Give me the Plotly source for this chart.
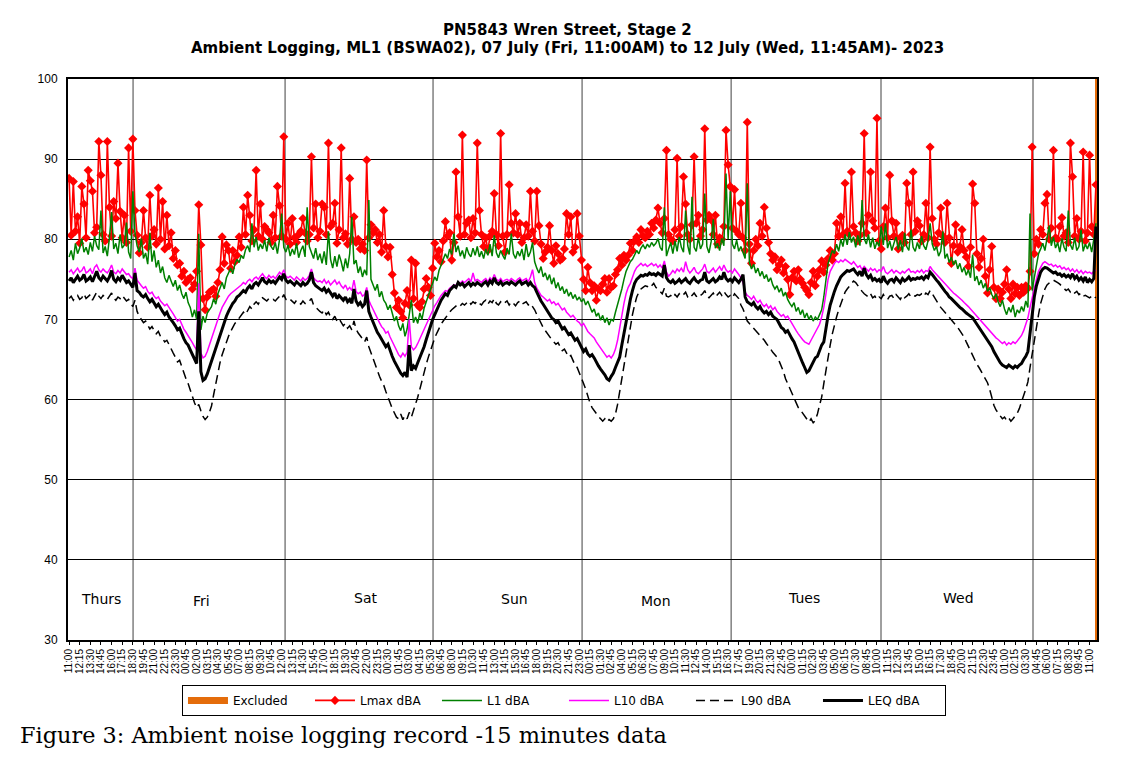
import pandas as pd
import plotly.graph_objects as go

# ---------------- data (15-minute logging, Fri 07 Jul 11:00 -> Wed 12 Jul 11:45) ----------------
lmax = [
    87.6, 80.5, 87.2, 81.0, 82.8, 79.5, 86.6, 84.4, 80.2, 88.6, 87.3, 86.0, 80.8, 81.5, 92.2, 88.0,
    80.6, 79.8, 92.2, 84.0, 80.4, 84.7, 82.6, 89.5, 83.5, 80.2, 83.0, 79.6, 91.4, 81.0, 92.5, 83.6,
    80.5, 78.3, 79.6, 83.6, 80.2, 79.0, 85.5, 80.4, 81.2, 79.4, 86.4, 80.0, 84.7, 78.8, 83.0, 79.2,
    80.8, 77.6, 78.6, 76.8, 77.0, 75.4, 76.0, 74.6, 75.0, 75.2, 73.8, 74.4, 76.0, 84.3, 79.3, 72.6,
    71.2, 72.8, 73.4, 73.6, 73.8, 72.9, 74.6, 76.2, 80.3, 77.0, 79.3, 78.6, 76.4, 78.6, 77.2, 78.0,
    80.3, 79.0, 84.0, 80.6, 85.5, 83.0, 79.8, 81.2, 88.6, 80.4, 84.4, 80.0, 81.6, 81.2, 80.8, 79.6,
    83.0, 80.2, 86.6, 84.2, 80.4, 92.8, 80.0, 82.0, 79.4, 82.6, 80.2, 79.6, 80.6, 81.0, 82.6, 80.8,
    79.8, 80.6, 90.3, 81.4, 84.4, 80.2, 81.0, 84.4, 84.0, 80.6, 92.0, 81.6, 82.0, 84.5, 79.5, 81.2,
    91.4, 80.2, 80.7, 79.4, 87.6, 80.0, 82.8, 79.6, 80.0, 78.8, 79.4, 78.6, 89.9, 80.2, 81.8, 80.8,
    81.2, 79.6, 80.6, 78.4, 83.6, 79.1, 77.8, 79.0, 75.6, 73.3, 71.5, 72.4, 71.0, 70.2, 72.0, 73.6,
    71.8, 77.4, 72.6, 77.0, 71.8, 71.5, 72.2, 73.8, 75.1, 74.0, 73.0, 76.4, 79.5, 77.8, 78.6, 77.2,
    79.8, 82.2, 80.4, 80.8, 77.4, 79.6, 88.4, 82.8, 80.4, 93.0, 80.6, 82.0, 82.4, 80.2, 82.6, 80.8,
    92.0, 83.6, 80.6, 79.1, 80.2, 78.6, 80.4, 81.0, 85.7, 80.6, 79.2, 93.2, 80.4, 78.4, 80.6, 86.8,
    82.0, 80.8, 83.2, 80.6, 82.0, 79.6, 80.2, 81.8, 80.4, 86.0, 81.0, 79.8, 86.0, 81.7, 79.4, 77.6,
    78.4, 79.0, 81.7, 78.6, 77.0, 79.2, 78.2, 77.4, 77.6, 78.8, 83.2, 80.6, 82.8, 78.4, 79.0, 83.2,
    80.4, 77.4, 75.0, 73.6, 76.5, 74.6, 73.6, 74.2, 72.4, 73.8, 73.6, 74.4, 75.1, 73.4, 75.1, 74.0,
    74.2, 75.6, 76.2, 77.6, 76.8, 78.0, 77.4, 78.0, 79.5, 78.6, 79.8, 80.3, 79.6, 81.2, 80.4, 80.2,
    81.0, 80.6, 82.0, 81.4, 82.4, 83.9, 82.0, 80.8, 82.6, 91.1, 80.6, 80.0, 79.8, 81.2, 90.1, 80.4,
    81.6, 87.8, 84.4, 80.6, 80.0, 81.8, 90.3, 82.0, 83.0, 80.4, 81.2, 93.8, 82.4, 83.0, 82.4, 80.6,
    83.0, 79.4, 80.2, 80.0, 81.6, 93.6, 89.3, 86.6, 81.4, 86.2, 81.0, 80.6, 84.5, 80.2, 78.6, 94.6,
    79.4, 77.0, 78.6, 80.0, 79.2, 82.0, 80.4, 84.0, 81.4, 79.6, 78.2, 77.4, 77.8, 76.2, 76.8, 77.4,
    75.8, 76.6, 75.0, 73.1, 75.2, 76.0, 74.8, 76.2, 75.0, 74.5, 74.0, 73.6, 73.1, 74.6, 76.0, 74.2,
    75.4, 76.2, 77.3, 75.9, 76.8, 77.6, 78.6, 77.4, 78.2, 82.0, 80.4, 82.8, 80.6, 87.0, 81.0, 80.6,
    88.4, 81.6, 80.8, 79.8, 80.5, 82.0, 93.2, 80.8, 83.0, 88.4, 82.3, 81.4, 95.1, 79.8, 78.8, 81.6,
    83.9, 80.2, 88.0, 82.3, 80.4, 82.0, 78.8, 80.2, 80.5, 79.6, 87.0, 84.5, 80.6, 88.4, 81.0, 82.3,
    81.7, 79.8, 80.6, 84.5, 80.2, 91.5, 82.6, 80.0, 79.4, 80.8, 83.9, 80.4, 79.6, 84.5, 80.2, 77.0,
    79.2, 81.8, 78.4, 79.1, 81.2, 78.6, 77.8, 76.6, 79.0, 86.9, 84.5, 78.2, 76.5, 77.6, 80.0, 75.4,
    73.3, 76.2, 79.1, 74.0, 72.6, 73.8, 72.6, 73.4, 74.4, 76.2, 73.8, 72.6, 74.4, 73.2, 74.0, 73.0,
    74.0, 73.4, 74.2, 73.9, 76.0, 91.5, 78.2, 80.0, 79.4, 81.2, 80.6, 84.5, 85.6, 80.0, 81.4, 91.1,
    80.2, 80.0, 81.6, 82.7, 80.4, 80.8, 79.6, 92.0, 87.8, 80.4, 82.6, 80.0, 81.0, 90.9, 79.8, 80.8,
    90.5, 81.6, 80.6, 86.8,
]

l1 = [
    77.8, 78.6, 77.4, 79.5, 78.2, 78.9, 80.1, 78.4, 79.0, 78.1, 79.6, 78.5, 80.4, 79.2, 78.7, 83.6,
    78.3, 79.1, 77.9, 80.2, 83.4, 78.8, 79.5, 78.2, 80.6, 78.9, 79.3, 82.1, 78.4, 77.6, 86.0, 80.8,
    79.2, 78.4, 80.1, 77.6, 78.3, 76.9, 80.8, 77.2, 78.6, 76.5, 77.4, 75.8, 76.6, 75.2, 74.6, 75.5,
    74.8, 74.1, 74.9, 73.6, 74.3, 73.2, 72.6, 73.4, 72.1, 71.5, 70.3, 71.2, 70.0, 80.7, 68.7, 70.4,
    69.6, 70.8, 71.2, 71.6, 72.6, 71.9, 73.2, 74.0, 74.6, 73.8, 75.2, 75.8, 76.4, 75.7, 76.9, 77.5,
    77.1, 78.0, 77.6, 78.7, 79.2, 78.4, 82.0, 79.0, 80.3, 78.6, 79.4, 78.8, 79.9, 78.5, 80.2, 79.1,
    78.7, 79.6, 78.2, 80.0, 83.2, 79.0, 78.4, 79.3, 77.9, 78.8, 78.1, 79.5, 77.7, 78.6, 79.2, 77.8,
    84.0, 79.1, 78.3, 77.6, 78.9, 77.4, 78.2, 77.0, 78.5, 76.8, 81.0, 77.5, 76.4, 77.9, 76.6, 78.1,
    77.2, 76.0, 77.6, 76.4, 78.2, 82.8, 76.9, 77.4, 75.8, 76.6, 75.3, 76.2, 75.5, 84.9, 75.0, 74.2,
    73.6, 74.4, 72.8, 73.5, 72.4, 72.0, 71.2, 71.8, 70.6, 69.8, 70.4, 69.2, 68.6, 69.5, 67.9, 68.8,
    70.6, 72.4, 69.6, 70.3, 69.5, 70.8, 70.0, 71.4, 72.2, 73.0, 73.8, 74.6, 75.3, 74.8, 76.1, 76.8,
    77.4, 78.2, 77.6, 78.8, 78.1, 80.7, 78.4, 79.2, 77.9, 78.6, 77.6, 79.0, 78.2, 77.8, 78.9, 78.0,
    79.1, 77.8, 78.5, 77.6, 78.8, 78.0, 79.4, 77.9, 80.5, 78.3, 77.7, 78.6, 78.0, 77.5, 78.9, 78.1,
    80.7, 78.2, 77.6, 78.5, 77.9, 78.8, 77.4, 79.4, 77.8, 78.4, 79.6, 77.2, 76.4, 75.8, 76.6, 75.3,
    75.8, 74.9, 75.6, 74.4, 75.2, 73.9, 74.6, 73.6, 74.1, 73.2, 73.8, 72.9, 73.4, 72.6, 73.1, 72.4,
    72.8, 72.2, 72.6, 71.8, 72.3, 71.5, 70.9, 71.3, 70.4, 70.8, 69.9, 70.5, 69.6, 70.2, 69.3, 70.0,
    69.8, 70.9, 71.8, 72.6, 73.8, 75.0, 76.0, 76.6, 77.2, 77.5, 78.0, 78.6, 78.2, 78.9, 79.3, 78.8,
    79.4, 79.0, 79.6, 79.2, 79.5, 80.1, 79.0, 78.6, 84.0, 77.9, 78.8, 79.6, 78.2, 79.8, 78.5, 80.3,
    79.0, 78.4, 83.6, 79.2, 78.1, 85.3, 79.0, 78.5, 80.2, 78.8, 79.4, 85.7, 79.1, 78.3, 79.7, 82.5,
    78.9, 79.5, 78.6, 80.1, 79.2, 88.2, 80.0, 86.0, 79.4, 78.8, 79.9, 78.5, 79.1, 78.2, 77.6, 87.0,
    77.1, 76.3, 76.9, 75.8, 76.4, 75.4, 76.0, 75.1, 75.6, 74.7, 75.2, 74.3, 73.8, 74.2, 73.4, 73.9,
    72.9, 73.4, 72.5, 72.0, 71.6, 72.1, 71.0, 71.5, 70.6, 71.2, 70.2, 70.8, 70.0, 70.5, 69.8, 70.3,
    70.0, 70.6, 71.2, 72.8, 75.0, 77.0, 77.8, 78.6, 78.2, 79.4, 78.5, 80.0, 79.1, 80.6, 79.3, 80.9,
    79.6, 80.3, 79.0, 80.5, 79.2, 84.9, 80.1, 79.4, 80.6, 79.0, 80.2, 78.8, 79.7, 79.1, 81.6, 79.3,
    82.0, 78.9, 79.8, 78.6, 79.5, 80.3, 78.7, 79.9, 78.4, 80.8, 79.1, 78.6, 81.2, 79.0, 78.5, 79.6,
    78.8, 80.4, 79.2, 78.7, 79.8, 82.0, 79.4, 78.6, 79.1, 77.9, 78.5, 81.0, 77.6, 78.2, 77.1, 77.8,
    76.8, 77.4, 76.3, 77.0, 75.9, 76.5, 75.5, 76.2, 75.2, 78.1, 74.8, 75.4, 74.3, 74.9, 73.9, 74.5,
    73.5, 74.0, 73.1, 72.6, 73.2, 72.2, 71.6, 72.4, 71.3, 70.6, 71.5, 70.9, 71.8, 70.3, 71.2, 70.8,
    71.6, 71.0, 72.3, 71.5, 83.2, 73.6, 75.2, 77.0, 78.2, 78.8, 79.5, 78.6, 80.0, 81.7, 79.2, 80.3,
    78.9, 79.6, 78.4, 80.1, 79.0, 78.5, 83.6, 79.3, 78.7, 80.2, 78.6, 79.1, 81.2, 78.5, 79.4, 78.8,
    79.6, 78.4, 80.0, 82.0,
]

l10 = [
    75.9, 76.2, 75.7, 76.0, 76.4, 75.9, 76.1, 76.6, 75.8, 76.0, 76.3, 75.7, 76.5, 76.8, 76.2, 75.9,
    76.3, 76.0, 75.8, 76.2, 76.8, 75.9, 75.7, 76.1, 75.8, 76.3, 75.9, 75.6, 75.7, 75.3, 75.1, 76.4,
    74.9, 74.5, 74.2, 73.9, 74.1, 73.5, 73.2, 73.4, 72.9, 72.6, 72.8, 72.3, 72.0, 71.7, 71.9, 71.4,
    71.1, 70.7, 70.3, 69.8, 70.0, 69.3, 68.8, 68.4, 68.0, 67.5, 67.1, 66.6, 66.2, 74.5, 65.8, 65.2,
    65.4, 66.0, 66.8, 67.6, 68.4, 69.3, 70.2, 70.8, 71.5, 72.0, 72.5, 72.9, 73.2, 73.4, 73.7, 73.9,
    74.1, 74.3, 74.6, 74.4, 74.8, 75.0, 74.7, 75.1, 75.3, 75.0, 75.4, 75.7, 75.3, 75.1, 75.5, 75.2,
    75.4, 75.1, 75.5, 75.9, 75.6, 76.2, 75.4, 75.2, 75.4, 75.1, 74.9, 75.3, 75.0, 74.8, 75.2, 74.9,
    75.1, 75.5, 76.3, 75.2, 74.9, 74.7, 74.8, 74.6, 75.0, 74.5, 74.8, 74.3, 74.6, 74.9, 74.4, 74.7,
    74.2, 73.9, 74.3, 73.7, 74.0, 73.6, 74.9, 73.5, 73.2, 73.4, 72.9, 73.1, 74.0, 72.4, 71.8, 71.2,
    70.6, 70.0, 69.6, 69.1, 68.8, 68.3, 68.5, 67.8, 67.2, 66.6, 66.0, 65.6, 65.3, 65.8, 65.4, 65.9,
    70.0, 66.6, 66.2, 66.5, 67.0, 67.6, 68.2, 68.9, 69.5, 70.1, 70.7, 71.2, 71.7, 72.1, 72.6, 73.0,
    73.3, 73.6, 73.5, 73.9, 74.1, 74.3, 74.2, 74.7, 74.5, 74.8, 74.6, 74.9, 75.1, 74.7, 75.8, 74.8,
    75.0, 74.8, 74.6, 74.9, 75.1, 74.7, 75.2, 74.9, 75.6, 75.0, 74.8, 75.1, 74.7, 74.9, 75.0, 74.8,
    75.1, 74.9, 74.7, 75.0, 75.2, 74.8, 74.9, 75.1, 74.7, 75.3, 76.2, 74.6, 73.9, 73.4, 73.0, 72.8,
    72.6, 72.3, 72.5, 72.0, 72.2, 71.8, 72.0, 71.5, 71.2, 71.4, 70.9, 70.6, 70.3, 70.5, 70.1, 69.8,
    69.6, 69.2, 69.5, 68.9, 68.5, 68.2, 68.0, 67.7, 67.2, 66.8, 66.4, 66.0, 65.6, 65.3, 65.5, 65.2,
    65.6, 66.3, 67.4, 69.0, 70.6, 72.0, 73.2, 74.0, 74.5, 75.4, 76.0, 76.5, 76.8, 77.0, 76.7, 76.9,
    76.6, 76.8, 77.0, 76.7, 76.9, 76.5, 76.8, 76.4, 77.3, 75.9, 75.4, 75.7, 76.1, 75.8, 76.3, 76.0,
    76.4, 75.9, 77.2, 76.2, 75.8, 76.1, 76.5, 75.9, 75.7, 76.0, 76.3, 76.9, 76.0, 75.8, 76.1, 76.4,
    75.9, 76.2, 76.6, 76.1, 76.8, 76.2, 75.9, 76.1, 75.8, 76.3, 76.0, 75.6, 75.2, 74.6, 73.4, 73.0,
    72.8, 72.5, 72.9, 72.4, 72.1, 72.4, 71.9, 71.6, 71.9, 71.4, 71.7, 71.2, 71.5, 71.0, 70.7, 70.4,
    70.6, 70.2, 70.4, 69.9, 69.5, 69.0, 68.6, 68.2, 67.8, 67.5, 67.2, 67.0, 66.9, 67.4, 67.9, 68.5,
    69.0, 69.4, 70.3, 71.5, 73.2, 75.0, 76.0, 76.6, 77.0, 77.3, 77.1, 77.4, 77.2, 77.5, 77.3, 77.1,
    76.9, 77.2, 76.8, 76.5, 76.7, 76.2, 76.6, 76.3, 76.0, 76.4, 76.1, 76.3, 75.9, 76.2, 76.0, 76.6,
    75.9, 75.7, 76.0, 76.2, 75.8, 76.1, 75.9, 75.7, 76.0, 75.8, 76.1, 76.3, 75.9, 76.0, 75.8, 76.1,
    75.9, 76.2, 75.8, 76.1, 76.0, 76.6, 76.2, 75.9, 75.6, 75.3, 75.0, 74.7, 74.4, 74.1, 73.8, 73.6,
    73.3, 73.1, 72.9, 72.6, 72.4, 72.1, 71.9, 71.6, 71.3, 71.0, 70.7, 70.3, 70.0, 69.7, 69.4, 69.1,
    68.8, 68.5, 68.2, 67.9, 67.7, 67.5, 67.3, 67.0, 67.2, 66.8, 67.1, 66.9, 67.2, 67.0, 67.3, 67.6,
    68.0, 68.6, 69.3, 70.2, 71.5, 72.8, 73.8, 75.0, 76.0, 76.6, 77.0, 77.2, 77.0, 76.8, 76.9, 76.6,
    76.8, 76.5, 76.7, 76.3, 76.5, 76.2, 76.4, 76.0, 76.3, 75.9, 76.2, 75.8, 76.1, 75.7, 76.0, 75.8,
    75.9, 75.7, 76.0, 76.2,
]

l90 = [
    72.6, 72.9, 72.4, 72.8, 73.0, 72.5, 72.7, 73.2, 72.6, 72.8, 73.1, 72.4, 73.0, 73.4, 72.9, 72.6,
    73.0, 72.8, 72.5, 72.9, 73.3, 72.7, 72.4, 72.8, 72.6, 73.0, 72.7, 72.3, 72.5, 72.0, 71.6, 72.4,
    71.0, 70.4, 70.0, 69.6, 69.8, 69.2, 68.8, 69.1, 68.6, 68.2, 68.5, 67.9, 67.6, 67.2, 67.4, 66.8,
    66.3, 65.8, 65.3, 64.7, 64.9, 64.1, 63.3, 62.6, 62.0, 61.2, 60.3, 59.6, 59.0, 59.4, 58.6, 57.9,
    57.5, 57.8, 58.4, 59.2, 60.6, 62.0, 63.4, 64.6, 65.6, 66.4, 67.2, 67.9, 68.5, 69.0, 69.5, 69.8,
    70.2, 70.5, 70.9, 70.6, 71.2, 71.6, 71.3, 71.9, 72.2, 71.9, 72.4, 72.7, 72.5, 72.3, 72.6, 72.4,
    72.5, 72.3, 72.6, 72.9, 72.6, 73.1, 72.5, 72.3, 72.5, 72.2, 72.0, 72.4, 72.1, 71.9, 72.3, 72.0,
    72.0, 72.3, 72.6, 71.8, 71.5, 71.2, 71.0, 70.8, 71.2, 70.6, 70.9, 70.3, 70.0, 70.4, 69.8, 70.1,
    69.6, 69.2, 69.5, 68.9, 69.2, 68.7, 69.8, 68.8, 68.3, 68.0, 67.6, 67.2, 67.8, 66.6, 65.8, 65.0,
    64.2, 63.5, 62.9, 62.3, 61.8, 61.0, 60.4, 59.6, 58.9, 58.3, 57.8, 57.6, 58.2, 57.5, 58.0, 57.6,
    58.4, 57.8, 58.6, 59.4, 60.3, 61.3, 62.4, 63.4, 64.4, 65.3, 66.2, 67.0, 67.7, 68.3, 68.9, 69.4,
    69.8, 70.2, 70.5, 70.9, 71.2, 71.4, 71.6, 71.9, 71.7, 72.0, 71.8, 72.1, 72.3, 71.9, 72.2, 72.0,
    72.3, 72.0, 71.8, 72.2, 72.4, 71.9, 72.3, 72.1, 72.6, 72.0, 71.8, 72.2, 71.9, 72.1, 72.3, 71.8,
    72.2, 72.0, 71.7, 72.1, 72.3, 71.9, 72.0, 72.2, 71.8, 72.0, 71.6, 71.2, 70.6, 70.0, 69.5, 69.0,
    68.6, 68.2, 67.9, 67.5, 67.2, 66.9, 67.1, 66.5, 66.1, 66.3, 65.8, 65.3, 65.5, 64.9, 64.3, 64.0,
    63.4, 62.8, 62.0, 61.3, 60.4, 59.6, 59.0, 58.6, 58.3, 57.9, 57.6, 57.3, 57.6, 57.2, 57.5, 57.3,
    57.6, 58.2, 59.4, 61.0, 62.8, 64.6, 66.2, 67.6, 69.2, 70.6, 71.8, 72.8, 73.4, 73.8, 74.0, 74.2,
    74.1, 74.4, 74.2, 74.5, 74.0, 73.8, 73.5, 73.2, 73.9, 72.9, 72.8, 73.0, 72.7, 73.1, 72.8, 73.2,
    72.9, 73.1, 73.4, 72.8, 72.6, 73.0, 73.3, 72.9, 72.7, 73.0, 73.2, 73.6, 72.9, 72.7, 73.0, 73.3,
    72.8, 73.1, 73.4, 73.0, 73.5, 73.1, 72.8, 73.0, 72.7, 73.2, 72.9, 72.6, 71.8, 71.3, 70.6, 69.8,
    69.5, 69.2, 69.0, 68.6, 68.3, 68.0, 67.7, 67.4, 67.0, 66.7, 66.3, 65.9, 65.6, 65.3, 64.8, 64.2,
    63.5, 62.6, 62.0, 61.4, 60.7, 60.1, 59.5, 59.0, 58.7, 58.3, 58.0, 57.6, 57.2, 57.6, 57.1, 57.4,
    58.2, 59.3, 60.3, 62.0, 63.8, 65.3, 66.8, 68.2, 69.4, 70.3, 71.2, 72.0, 72.8, 73.4, 73.8, 74.1,
    74.4, 74.8, 74.6, 74.2, 73.8, 73.5, 73.2, 73.0, 72.8, 73.2, 72.7, 72.9, 72.5, 72.8, 72.6, 73.1,
    72.7, 72.5, 72.9, 73.0, 72.6, 73.1, 72.8, 72.5, 73.0, 72.7, 72.9, 73.2, 72.8, 73.0, 72.9, 73.1,
    73.0, 73.2, 72.9, 73.3, 73.1, 73.6, 73.2, 72.7, 72.3, 71.9, 71.5, 71.2, 70.9, 70.6, 70.3, 70.0,
    69.7, 69.3, 69.0, 68.6, 68.2, 67.8, 67.2, 66.6, 66.0, 65.4, 64.9, 64.4, 64.0, 63.5, 63.0, 62.5,
    62.1, 61.3, 60.2, 59.3, 58.7, 58.3, 58.0, 57.6, 57.8, 57.4, 57.7, 57.3, 57.6, 57.9, 58.3, 58.9,
    59.6, 60.5, 61.3, 62.2, 64.0, 65.8, 67.2, 69.0, 70.6, 72.0, 73.0, 73.8, 74.3, 74.6, 74.8, 74.9,
    74.8, 74.6, 74.4, 74.1, 73.9, 73.6, 73.8, 73.4, 73.6, 73.3, 73.5, 73.1, 73.3, 72.9, 73.0, 72.8,
    72.7, 72.9, 72.6, 72.8,
]

leq = [
    74.8, 75.2, 74.6, 75.0, 75.4, 74.9, 75.1, 75.6, 74.8, 75.0, 75.3, 74.7, 75.5, 76.0, 75.2, 74.9,
    75.4, 75.1, 74.8, 75.3, 76.1, 75.0, 74.7, 75.2, 74.9, 75.5, 75.0, 74.6, 74.8, 74.4, 74.0, 75.8,
    73.6, 73.4, 73.0, 72.8, 73.1, 72.6, 72.2, 72.5, 72.0, 71.6, 71.9, 71.4, 71.0, 70.6, 70.9, 70.3,
    70.0, 69.6, 69.2, 68.7, 68.9, 68.2, 67.6, 67.1, 66.8, 66.2, 65.7, 65.0, 64.5, 71.0, 63.5, 62.4,
    62.6, 63.2, 64.0, 64.8, 65.6, 66.6, 67.3, 68.0, 68.8, 69.6, 70.4, 71.0, 71.5, 72.0, 72.3, 72.8,
    73.0, 73.3, 73.6, 73.4, 73.9, 74.2, 73.8, 74.4, 74.6, 74.3, 74.8, 75.2, 74.7, 74.5, 74.9, 74.6,
    74.8, 74.5, 74.9, 75.3, 75.0, 75.7, 74.9, 74.6, 74.8, 74.5, 74.3, 74.7, 74.4, 74.2, 74.6, 74.3,
    74.5, 74.9, 75.9, 74.6, 74.2, 74.0, 73.8, 73.6, 73.9, 73.4, 73.7, 73.2, 72.9, 73.3, 72.6, 73.0,
    72.7, 72.4, 72.8, 72.2, 72.5, 72.0, 73.8, 72.3, 71.8, 72.1, 71.6, 71.9, 73.6, 71.0, 70.3, 69.6,
    69.0, 68.4, 68.0, 67.5, 67.2, 66.6, 66.9, 66.0, 65.4, 64.8, 64.2, 63.8, 63.3, 63.0, 63.4, 62.8,
    66.8, 63.6, 64.2, 63.9, 64.6, 65.2, 65.8, 66.6, 67.5, 68.4, 69.2, 70.0, 70.6, 71.3, 71.8, 72.4,
    72.8, 73.2, 73.0, 73.6, 73.9, 74.2, 74.0, 74.6, 74.3, 74.5, 74.1, 74.4, 74.6, 74.2, 74.5, 74.3,
    74.6, 74.4, 74.2, 74.5, 74.7, 74.3, 74.8, 74.5, 75.2, 74.6, 74.4, 74.7, 74.3, 74.5, 74.6, 74.4,
    74.7, 74.5, 74.3, 74.6, 74.8, 74.4, 74.5, 74.7, 74.3, 74.6, 74.2, 74.0, 73.4, 72.8, 72.3, 71.9,
    71.5, 71.0, 70.6, 70.2, 70.0, 69.6, 69.8, 69.2, 68.8, 69.0, 68.5, 68.1, 68.3, 67.8, 67.4, 67.6,
    67.0, 66.5, 66.0, 66.3, 65.7, 65.4, 65.6, 65.2, 64.6, 64.2, 63.8, 63.5, 63.1, 62.6, 62.4, 62.9,
    63.3, 64.0, 64.6, 65.3, 66.8, 68.3, 69.8, 71.2, 72.5, 73.6, 74.5, 75.0, 75.3, 75.5, 75.4, 75.6,
    75.5, 75.8, 75.6, 75.7, 75.5, 75.8, 75.6, 75.4, 76.8, 75.2, 74.8, 74.6, 74.9, 74.5, 74.7, 75.0,
    74.6, 74.8, 75.1, 74.7, 74.5, 74.9, 75.2, 74.8, 74.6, 74.9, 75.0, 75.9, 74.8, 74.6, 74.9, 75.1,
    74.7, 74.9, 75.3, 75.0, 75.9, 75.1, 74.8, 75.0, 74.7, 75.2, 74.9, 74.6, 75.0, 75.6, 72.8, 72.2,
    72.0, 71.8, 72.1, 71.6, 71.3, 71.6, 71.1, 70.8, 71.0, 70.6, 70.9, 70.4, 70.2, 70.0, 69.5, 69.0,
    68.8, 68.4, 68.6, 68.0, 67.6, 67.2, 66.5, 65.8, 65.2, 64.6, 64.0, 63.4, 63.6, 64.2, 64.8, 65.2,
    65.4, 66.2, 66.8, 67.2, 69.0, 70.5, 71.8, 72.8, 73.5, 74.2, 74.8, 75.3, 75.6, 75.9, 76.1, 76.0,
    76.2, 76.3, 75.9, 75.6, 76.0, 75.4, 76.4, 75.6, 75.2, 75.5, 74.9, 75.1, 74.8, 75.0, 74.6, 75.4,
    74.8, 74.5, 74.9, 75.0, 74.7, 75.2, 74.9, 74.6, 75.1, 74.8, 75.0, 75.3, 74.9, 75.1, 75.0, 75.2,
    75.1, 75.3, 75.0, 75.4, 75.2, 75.9, 75.6, 75.2, 74.9, 74.6, 74.2, 73.9, 73.5, 73.2, 72.8, 72.6,
    72.3, 72.0, 71.8, 71.5, 71.3, 71.0, 70.8, 70.6, 70.4, 70.2, 69.8, 69.4, 69.0, 68.6, 68.2, 67.8,
    67.4, 67.0, 66.6, 66.0, 65.5, 65.0, 64.6, 64.3, 64.1, 64.0, 64.3, 64.1, 63.9, 64.2, 64.0, 64.3,
    64.5, 65.0, 65.4, 66.0, 68.5, 71.0, 72.8, 74.2, 75.2, 75.9, 76.3, 76.5, 76.4, 76.2, 76.0, 75.8,
    75.9, 75.6, 75.7, 75.4, 75.6, 75.3, 75.5, 75.2, 75.7, 75.1, 75.4, 74.9, 75.2, 74.8, 75.3, 74.6,
    75.0, 74.7, 75.1, 81.6,
]

n_points = len(leq)
excluded = [None] * (n_points - 1) + [100]

start_time = "2023-07-07 11:00"
times = pd.date_range(start_time, periods=n_points, freq="15min")
tick_step = 5
tick_idx = list(range(0, n_points, tick_step))
tick_labels = [times[i].strftime("%H:%M") for i in tick_idx]

day_names = ["Thurs", "Fri", "Sat", "Sun", "Mon", "Tues", "Wed"]
day_label_x = [14.8, 62.5, 139.2, 209.3, 276.0, 345.6, 418.5]
day_label_y = [35.1, 34.9, 35.2, 35.1, 34.9, 35.2, 35.3]
day_separators = [30.1, 101.6, 171.2, 241.3, 311.4, 381.9, 453.4]

title_lines = ["PN5843 Wren Street, Stage 2",
               "Ambient Logging, ML1 (BSWA02), 07 July (Fri, 11:00AM) to 12 July (Wed, 11:45AM)- 2023"]
caption = "Figure 3: Ambient noise logging record -15 minutes data"

x = list(range(n_points))
ARIAL = "Arial, 'Liberation Sans', sans-serif"
WIDE = "'DejaVu Sans', Arial, sans-serif"

fig = go.Figure()
# legend-only entry for the excluded period (the mark itself is the bar below)
fig.add_trace(go.Scatter(x=[None], y=[None], name="Excluded", mode="lines",
                         line=dict(color="#E46C0A", width=7), legendgroup="exc"))
fig.add_trace(go.Bar(x=x, y=excluded, name="Excluded", marker=dict(color="#E46C0A", line=dict(width=0)),
                     width=1.0, showlegend=False, legendgroup="exc"))
fig.add_trace(go.Scatter(x=x, y=lmax, name="Lmax dBA", mode="lines+markers",
                         line=dict(color="#FF0000", width=1.6),
                         marker=dict(symbol="diamond", size=7, color="#FF0000")))
fig.add_trace(go.Scatter(x=x, y=l1, name="L1 dBA", mode="lines",
                         line=dict(color="#008000", width=1.5)))
fig.add_trace(go.Scatter(x=x, y=l10, name="L10 dBA", mode="lines",
                         line=dict(color="#FF00FF", width=1.5)))
fig.add_trace(go.Scatter(x=x, y=l90, name="L90 dBA", mode="lines",
                         line=dict(color="#000000", width=1.5, dash="9px,5px")))
fig.add_trace(go.Scatter(x=x, y=leq, name="LEQ dBA", mode="lines",
                         line=dict(color="#000000", width=3)))

shapes = [dict(type="line", xref="x", yref="paper", x0=p, x1=p, y0=0, y1=1,
               line=dict(color="#404040", width=1), layer="below") for p in day_separators]

annotations = [dict(x=xx, y=yy, xref="x", yref="y", text=t, showarrow=False,
                    font=dict(family=WIDE, size=14, color="#000000"))
               for t, xx, yy in zip(day_names, day_label_x, day_label_y)]
annotations.append(dict(x=0.4859, y=1.0873, xref="paper", yref="paper", xanchor="center", yanchor="middle",
                        text="<b>" + title_lines[0] + "</b>", showarrow=False,
                        font=dict(family=WIDE, size=15, color="#000000")))
annotations.append(dict(x=0.4859, y=1.0553, xref="paper", yref="paper", xanchor="center", yanchor="middle",
                        text="<b>" + title_lines[1] + "</b>", showarrow=False,
                        font=dict(family=WIDE, size=15, color="#000000")))
annotations.append(dict(x=-0.0486, y=-0.169, xref="paper", yref="paper", xanchor="left", yanchor="middle",
                        text=caption, showarrow=False,
                        font=dict(family="'DejaVu Serif', serif", size=22.4, color="#000000")))

# page body has an 8px margin; size the figure so the plot lands on the reference pixels
fig.update_layout(
    width=1113, height=763,
    margin=dict(l=60, r=24, t=71, b=131, autoexpand=False),
    paper_bgcolor="white", plot_bgcolor="white",
    showlegend=True,
    legend=dict(orientation="h", x=0.482, xanchor="center", y=-0.08, yanchor="top",
                bordercolor="#000000", borderwidth=1, bgcolor="white",
                font=dict(family=WIDE, size=12, color="#000000"), itemwidth=40,
                entrywidth=72, traceorder="normal"),
    shapes=shapes,
    annotations=annotations,
    bargap=0,
)
fig.update_xaxes(range=[-0.5, n_points - 0.5], tickmode="array", tickvals=tick_idx, ticktext=tick_labels,
                 tickangle=-90, tickfont=dict(family=ARIAL, size=10, color="#000000"),
                 showgrid=False, zeroline=False, showline=True, linecolor="#000000", linewidth=2,
                 mirror=True, ticks="outside", ticklen=3, tickcolor="#000000")
fig.update_yaxes(range=[30, 100], dtick=10, tick0=30, tickfont=dict(family=ARIAL, size=12, color="#000000"),
                 showgrid=True, gridcolor="#000000", gridwidth=1, zeroline=False,
                 showline=True, linecolor="#000000", linewidth=2, mirror=True, ticks="",
                 ticklabelstandoff=6)

fig.write_html("out.html")
